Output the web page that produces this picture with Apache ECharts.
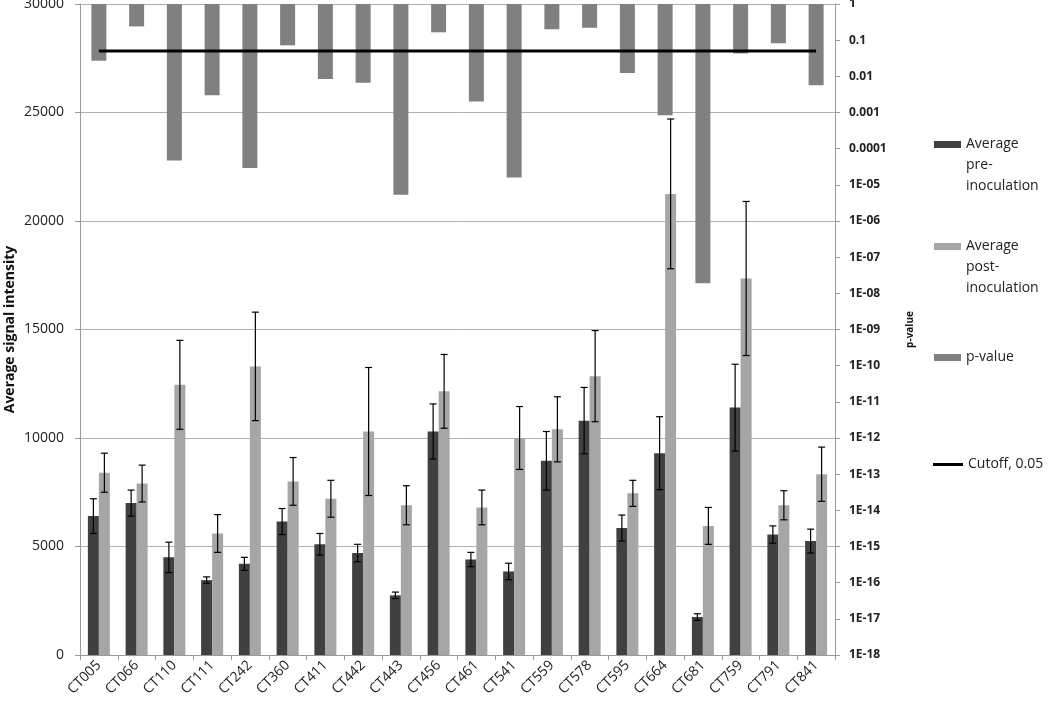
<!DOCTYPE html>
<html>
<head>
<meta charset="utf-8">
<script src="https://cdn.jsdelivr.net/npm/echarts@6/dist/echarts.min.js"></script>
<style>
html,body{margin:0;padding:0;background:#fff;}
#chart{width:1050px;height:710px;}
</style>
</head>
<body>
<div id="chart"></div>
<script>
const categories = ['CT005','CT066','CT110','CT111','CT242','CT360','CT411','CT442','CT443','CT456','CT461','CT541','CT559','CT578','CT595','CT664','CT681','CT759','CT791','CT841'];
const preValues = [6400, 7000, 4500, 3450, 4200, 6150, 5100, 4700, 2750, 10300, 4400, 3850, 8950, 10800, 5850, 9300, 1750, 11400, 5550, 5250];
const preErrors = [800, 600, 700, 150, 300, 600, 500, 400, 150, 1270, 330, 380, 1350, 1530, 600, 1680, 150, 2000, 400, 550];
const postValues = [8400, 7900, 12450, 5600, 13300, 8000, 7200, 10300, 6900, 12150, 6800, 10000, 10400, 12850, 7450, 21250, 5950, 17350, 6900, 8330];
const postErrors = [900, 850, 2050, 870, 2500, 1100, 850, 2950, 900, 1700, 800, 1450, 1500, 2100, 600, 3450, 850, 3550, 670, 1250];
const pValues = [0.027, 0.24, 4.7e-5, 0.003, 2.9e-5, 0.072, 0.0085, 0.0066, 5.3e-6, 0.165, 0.002, 1.6e-5, 0.2, 0.22, 0.0124, 0.00084, 1.9e-8, 0.043, 0.082, 0.0057];
const cutoffValue = 0.05;
const cutoffValues = categories.map(() => cutoffValue);
const pTickLabels = ['1','0.1','0.01','0.001','0.0001','1E-05','1E-06','1E-07','1E-08','1E-09','1E-10','1E-11','1E-12','1E-13','1E-14','1E-15','1E-16','1E-17','1E-18'];
const leftTickLabels = ['0','5000','10000','15000','20000','25000','30000'];

const FONT = 'Open Sans';
const chart = echarts.init(document.getElementById('chart'), null, {renderer: 'canvas'});

function errorSeries(name, values, errors, offset) {
  return {
    type: 'custom',
    name: name + ' error',
    xAxisIndex: 0,
    yAxisIndex: 0,
    z: 5,
    silent: true,
    data: values.map((v, i) => [i, v, errors[i]]),
    renderItem: function (params, api) {
      const i = api.value(0), v = api.value(1), e = api.value(2);
      const top = api.coord([i, v + e]);
      const bot = api.coord([i, v - e]);
      const x = top[0] + offset;
      const cap = 3.5;
      const st = {stroke: '#000', lineWidth: 1.2};
      return {
        type: 'group',
        children: [
          {type: 'line', shape: {x1: x, y1: top[1], x2: x, y2: bot[1]}, style: st},
          {type: 'line', shape: {x1: x - cap, y1: top[1], x2: x + cap, y2: top[1]}, style: st},
          {type: 'line', shape: {x1: x - cap, y1: bot[1], x2: x + cap, y2: bot[1]}, style: st}
        ]
      };
    }
  };
}

function legendFor(name, top, left, icon, w, h, text) {
  return {
    data: [{name: name, icon: icon}],
    orient: 'vertical',
    left: left,
    top: top,
    padding: 0,
    itemWidth: w,
    itemHeight: h,
    itemGap: 5,
    selectedMode: false,
    formatter: function () { return text; },
    textStyle: {fontFamily: FONT, fontSize: 14, color: '#222', lineHeight: 21}
  };
}

const option = {
  animation: false,
  backgroundColor: '#fff',
  textStyle: {fontFamily: FONT},
  grid: {left: 80, right: 215, top: 4, bottom: 55, containLabel: false, outerBoundsMode: 'none'},
  legend: [
    legendFor('Average pre-inoculation', 92, 934, 'rect', 27, 7, '\n\nAverage\npre-\ninoculation'),
    legendFor('Average post-inoculation', 194, 934, 'rect', 27, 7, '\n\nAverage\npost-\ninoculation'),
    legendFor('p-value', 347, 934, 'rect', 27, 7, 'p-value'),
    legendFor('Cutoff, 0.05', 454, 933, 'rect', 30, 3, 'Cutoff, 0.05')
  ],
  xAxis: [
    {
      type: 'category',
      data: categories,
      position: 'bottom',
      axisLine: {lineStyle: {color: '#9a9a9a', width: 1}},
      axisTick: {show: true, length: 5, lineStyle: {color: '#9a9a9a'}},
      axisLabel: {rotate: 45, fontSize: 14, color: '#222', margin: 8, interval: 0, fontFamily: FONT},
      splitLine: {show: false}
    },
    {
      type: 'category',
      data: categories,
      show: false
    }
  ],
  yAxis: [
    {
      type: 'value',
      min: 0,
      max: 30000,
      interval: 5000,
      name: 'Average signal intensity',
      nameLocation: 'middle',
      nameGap: 63,
      nameRotate: 90,
      nameMoveOverlap: false,
      nameTextStyle: {fontFamily: FONT, fontSize: 14, fontWeight: 'bold', color: '#111'},
      axisLine: {show: true, lineStyle: {color: '#9a9a9a'}},
      axisTick: {show: true, length: 5, lineStyle: {color: '#9a9a9a'}},
      axisLabel: {
        fontSize: 14, color: '#222', margin: 16, fontFamily: FONT,
        formatter: function (v) { return leftTickLabels[Math.round(v / 5000)]; }
      },
      splitLine: {show: true, lineStyle: {color: '#b0b0b0', width: 1}}
    },
    {
      type: 'log',
      logBase: 10,
      min: 1e-18,
      max: 1,
      interval: 1,
      position: 'right',
      name: 'p-value',
      nameLocation: 'middle',
      nameGap: 70,
      nameRotate: 90,
      nameMoveOverlap: false,
      nameTextStyle: {fontFamily: FONT, fontSize: 10, fontWeight: 'bold', color: '#111'},
      axisLine: {show: true, lineStyle: {color: '#9a9a9a'}},
      axisTick: {show: true, length: 5, lineStyle: {color: '#9a9a9a'}},
      axisLabel: {
        fontSize: 12, fontWeight: 'bold', color: '#222', margin: 14, fontFamily: FONT,
        formatter: function (v) {
          const e = Math.round(-Math.log10(v));
          return pTickLabels[e] !== undefined ? pTickLabels[e] : '';
        }
      },
      splitLine: {show: false}
    }
  ],
  series: [
    {
      name: 'Average pre-inoculation',
      type: 'bar',
      xAxisIndex: 0,
      yAxisIndex: 0,
      data: preValues,
      barWidth: 11,
      barGap: '0%',
      itemStyle: {color: '#404040'},
      z: 3
    },
    {
      name: 'Average post-inoculation',
      type: 'bar',
      xAxisIndex: 0,
      yAxisIndex: 0,
      data: postValues,
      barWidth: 11,
      barGap: '0%',
      itemStyle: {color: '#a6a6a6'},
      z: 3
    },
    errorSeries('pre', preValues, preErrors, -5.5),
    errorSeries('post', postValues, postErrors, 5.5),
    {
      name: 'p-value',
      type: 'bar',
      xAxisIndex: 1,
      yAxisIndex: 1,
      data: pValues,
      barWidth: 15,
      itemStyle: {color: '#808080'},
      z: 2
    },
    {
      name: 'Cutoff, 0.05',
      type: 'line',
      xAxisIndex: 1,
      yAxisIndex: 1,
      data: cutoffValues,
      symbol: 'none',
      lineStyle: {color: '#000', width: 3},
      itemStyle: {color: '#000'},
      z: 6
    }
  ]
};
chart.setOption(option);
</script>
</body>
</html>
